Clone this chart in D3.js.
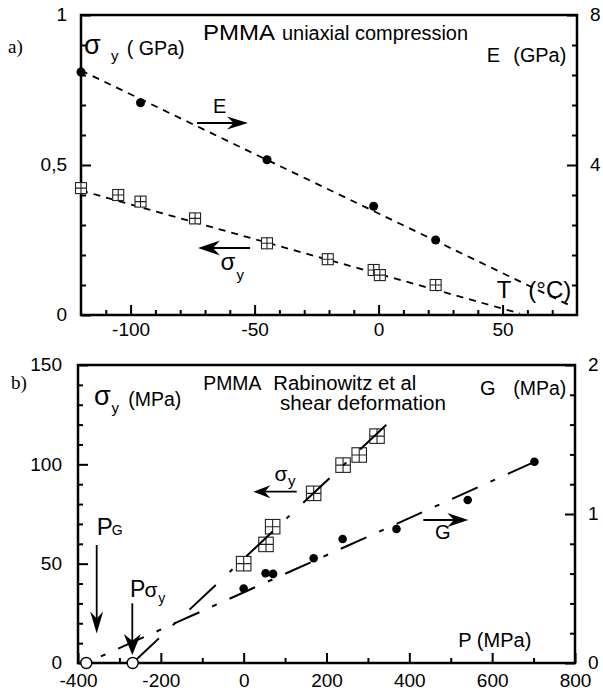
<!DOCTYPE html>
<html><head><meta charset="utf-8">
<script src="https://cdn.jsdelivr.net/npm/d3@7"></script>
<style>
body{margin:0;background:#fff}
text{font-family:"Liberation Sans",Arial,sans-serif;fill:#000}
</style>
</head><body>
<svg id="c" width="603" height="695"></svg>
<script>
// ---------- DATA ----------
// Panel a) : PMMA uniaxial compression, vs T (°C)
const topTicksX = [-100, -50, 0, 50];
const topTicksYL = [0, 0.5, 1];          // sigma_y (GPa)
const topTicksYR = [4, 8];               // E (GPa)
const topE = [[-120, 6.48], [-96, 5.66], [-45, 4.14], [-2, 2.90], [23, 2.00]];
const topEFit = [[-120, 6.52], [77, 0.26]];
const topSigma = [[-120, 0.423], [-105, 0.400], [-96, 0.378], [-74, 0.322], [-45, 0.239],
                  [-20.5, 0.186], [-2, 0.150], [0.5, 0.133], [23, 0.100]];
const topSigmaFit = [[-120, 0.415], [57, 0.005]];

// Panel b) : PMMA Rabinowitz et al, shear deformation, vs P (MPa)
const botTicksX = [-400, -200, 0, 200, 400, 600, 800];
const botTicksYL = [0, 50, 100, 150];    // sigma_y (MPa)
const botTicksYR = [0, 1, 2];            // G
const botSigma = [[0, 50], [54, 59.7], [70, 68.6], [169, 85.4], [240, 99.6], [279, 104.7], [322, 114.2]];
const botSigmaFit = [[-268, 0], [348, 120.6]];
const botG = [[0, 0.50], [53, 0.602], [71, 0.598], [169, 0.703], [239, 0.832], [369, 0.899], [541, 1.094], [702, 1.351]];
const botGFit = [[-380, 0], [712, 1.362]];
const botIntercepts = [-380, -268];      // P_G, P_sigma_y

// ---------- DRAWING ----------
const svg = d3.select("#c");
const loc = d3.formatLocale({decimal: ",", thousands: "", grouping: [3], currency: ["", ""], minus: "-"});
const fmt = loc.format("~g");

const x1 = d3.scaleLinear([-120, 80], [81, 577]);
const yL1 = d3.scaleLinear([0, 1], [315, 15]);
const yR1 = d3.scaleLinear([0, 8], [315, 15]);

const x2 = d3.scaleLinear([-400, 800], [78, 575]);
const yL2 = d3.scaleLinear([0, 150], [663, 365]);
const yR2 = d3.scaleLinear([0, 2], [663, 365]);

function notIn(arr, list) { return arr.filter(v => !list.some(m => Math.abs(m - v) < 1e-9)); }

function drawAxes(x, yL, yR, mx, mnx, myl, mnyl, myr, mnyr, padX, padYL, padYR) {
  const g = svg.append("g");
  const [xa, xb] = x.range(), [ya, yb] = yL.range();
  const style = (sel, dy) => {
    sel.select(".domain").remove();
    sel.selectAll(".tick line").attr("stroke", "#000").attr("stroke-width", 2);
    sel.selectAll(".tick text").style("font-size", "19px").attr("fill", "#000").attr("dy", dy);
  };
  // x axis
  g.append("g").attr("transform", `translate(0,${ya})`)
    .call(d3.axisBottom(x).tickValues(mnx).tickSize(-5).tickSizeOuter(0).tickFormat("")).call(style, "0.71em");
  g.append("g").attr("transform", `translate(0,${ya})`)
    .call(d3.axisBottom(x).tickValues(mx).tickSize(-10).tickSizeOuter(0).tickPadding(padX).tickFormat(fmt)).call(style, "0.71em");
  // left axis
  g.append("g").attr("transform", `translate(${xa},0)`)
    .call(d3.axisLeft(yL).tickValues(mnyl).tickSize(-5).tickSizeOuter(0).tickFormat("")).call(style, "0.3em");
  g.append("g").attr("transform", `translate(${xa},0)`)
    .call(d3.axisLeft(yL).tickValues(myl).tickSize(-10).tickSizeOuter(0).tickPadding(padYL).tickFormat(fmt)).call(style, "0.3em");
  // right axis
  g.append("g").attr("transform", `translate(${xb},0)`)
    .call(d3.axisRight(yR).tickValues(mnyr).tickSize(-5).tickSizeOuter(0).tickFormat("")).call(style, "0.3em");
  g.append("g").attr("transform", `translate(${xb},0)`)
    .call(d3.axisRight(yR).tickValues(myr).tickSize(-10).tickSizeOuter(0).tickPadding(padYR).tickFormat(fmt)).call(style, "0.3em");
  // frame
  g.append("rect").attr("x", xa).attr("y", yb).attr("width", xb - xa).attr("height", ya - yb)
    .attr("fill", "none").attr("stroke", "#000").attr("stroke-width", 2.5);
}

function txt(x, y, s, size, opt = {}) {
  const t = svg.append("text").attr("x", x).attr("y", y).text(s).style("font-size", size + "px");
  if (opt.len) t.attr("textLength", opt.len).attr("lengthAdjust", "spacingAndGlyphs");
  if (opt.serif) t.style("font-family", "'Liberation Serif','Times New Roman',serif");
  if (opt.anchor) t.attr("text-anchor", opt.anchor);
  return t;
}

function arrow(xa, ya, xb, yb, L, W, sw = 1.8) {
  const dx = xb - xa, dy = yb - ya, d = Math.hypot(dx, dy), ux = dx / d, uy = dy / d, nx = -uy, ny = ux;
  svg.append("line").attr("x1", xa).attr("y1", ya).attr("x2", xb - ux * L * 0.6).attr("y2", yb - uy * L * 0.6)
    .attr("stroke", "#000").attr("stroke-width", sw);
  const p = [[xb, yb], [xb - ux * L + nx * W, yb - uy * L + ny * W], [xb - ux * L * 0.68, yb - uy * L * 0.68],
             [xb - ux * L - nx * W, yb - uy * L - ny * W]];
  svg.append("path").attr("d", "M" + p.map(q => q.join(",")).join("L") + "Z").attr("fill", "#000");
}

function squares(data, x, y, s, fill) {
  const g = svg.append("g");
  data.forEach(d => {
    const cx = x(d[0]), cy = y(d[1]);
    g.append("rect").attr("x", cx - s / 2).attr("y", cy - s / 2).attr("width", s).attr("height", s)
      .attr("fill", fill).attr("stroke", "#222").attr("stroke-width", 1.1);
    g.append("path").attr("d", `M${cx - s / 2},${cy}H${cx + s / 2}M${cx},${cy - s / 2}V${cy + s / 2}`)
      .attr("stroke", "#222").attr("stroke-width", 1.1);
  });
}

function dots(data, x, y, r) {
  svg.append("g").selectAll("circle").data(data).join("circle")
    .attr("cx", d => x(d[0])).attr("cy", d => y(d[1])).attr("r", r).attr("fill", "#000");
}

function fitLine(data, x, y, dash, off = 0, sw = 1.8) {
  svg.append("path").datum(data).attr("d", d3.line().x(d => x(d[0])).y(d => y(d[1])))
    .attr("fill", "none").attr("stroke", "#000").attr("stroke-width", sw)
    .attr("stroke-dasharray", dash).attr("stroke-dashoffset", off);
}

// ---- Panel a ----
drawAxes(x1, yL1, yR1, topTicksX, notIn(d3.range(-110, 80, 10), topTicksX),
  topTicksYL, notIn(d3.range(0.1, 1, 0.1), topTicksYL),
  topTicksYR, notIn(d3.range(0.8, 8, 0.8), topTicksYR), 8, 14, 13);

fitLine(topEFit, x1, yR1, "7,6");
fitLine(topSigmaFit, x1, yL1, "7,6");
squares(topSigma, x1, yL1, 11, "#fff");
dots(topE, x1, yR1, 4.5);

txt(8, 53, "a)", 19, {serif: true});
txt(84, 54, "σ", 27);
txt(111, 61, "y", 15);
txt(126.7, 55, "( GPa)", 20, {len: 58});
txt(203, 39.5, "PMMA", 22, {len: 72});
txt(282, 39.5, "uniaxial compression", 20, {len: 186});
txt(486.7, 61.7, "E", 20);
txt(513.3, 61.7, "(GPa)", 20, {len: 53});
arrow(197, 123, 248, 123, 21, 6.5);
txt(213, 113, "E", 20);
arrow(250, 248, 198, 248, 22, 7.5);
txt(220.5, 270, "σ", 24);
txt(236.5, 280, "y", 15);
txt(496.7, 297.5, "T", 24);
txt(528.3, 297.5, "(°C)", 24, {len: 43});

// ---- Panel b ----
drawAxes(x2, yL2, yR2, botTicksX, notIn(d3.range(-300, 800, 100), botTicksX),
  botTicksYL, notIn(d3.range(10, 150, 10), botTicksYL),
  botTicksYR, notIn(d3.range(0.2, 2, 0.2), botTicksYR), 11, 16, 13);

squares(botSigma, x2, yL2, 14.5, "none");
fitLine(botSigmaFit, x2, yL2, "36,19,4,19", 0, 2);
fitLine(botGFit, x2, yR2, "28,14,5,14", 26, 2);
dots(botG, x2, yR2, 4.3);
svg.append("g").selectAll("circle").data(botIntercepts).join("circle")
  .attr("cx", d => x2(d)).attr("cy", yL2(0)).attr("r", 5.5)
  .attr("fill", "#fff").attr("stroke", "#000").attr("stroke-width", 1.4);

txt(11, 389, "b)", 19, {serif: true});
txt(94, 405, "σ", 27);
txt(111.5, 413, "y", 15);
txt(128.3, 406, "(MPa)", 20, {len: 53});
txt(203.3, 390, "PMMA", 20, {len: 58});
txt(273.3, 390, "Rabinowitz et al", 20, {len: 143});
txt(280, 410, "shear deformation", 20, {len: 166});
txt(480, 395, "G", 20);
txt(513.3, 395, "(MPa)", 20, {len: 53});
txt(458.3, 647.3, "P (MPa)", 20, {len: 73});

arrow(296.7, 491.7, 253.3, 491.7, 17, 6.5);
txt(274.5, 480.5, "σ", 21);
txt(288, 486, "y", 15);
arrow(423.3, 520, 468.3, 520, 21, 7);
txt(435, 539.3, "G", 20);

txt(96.7, 535, "P", 24);
txt(111.7, 535, "G", 14);
arrow(96.7, 545, 96.7, 633.5, 22, 6.5);
txt(130, 596.7, "P", 23);
txt(144.5, 596.7, "σ", 21);
txt(158.3, 603, "y", 14);
arrow(132.3, 603.3, 132.3, 655, 21, 8.5);
</script>
</body></html>
